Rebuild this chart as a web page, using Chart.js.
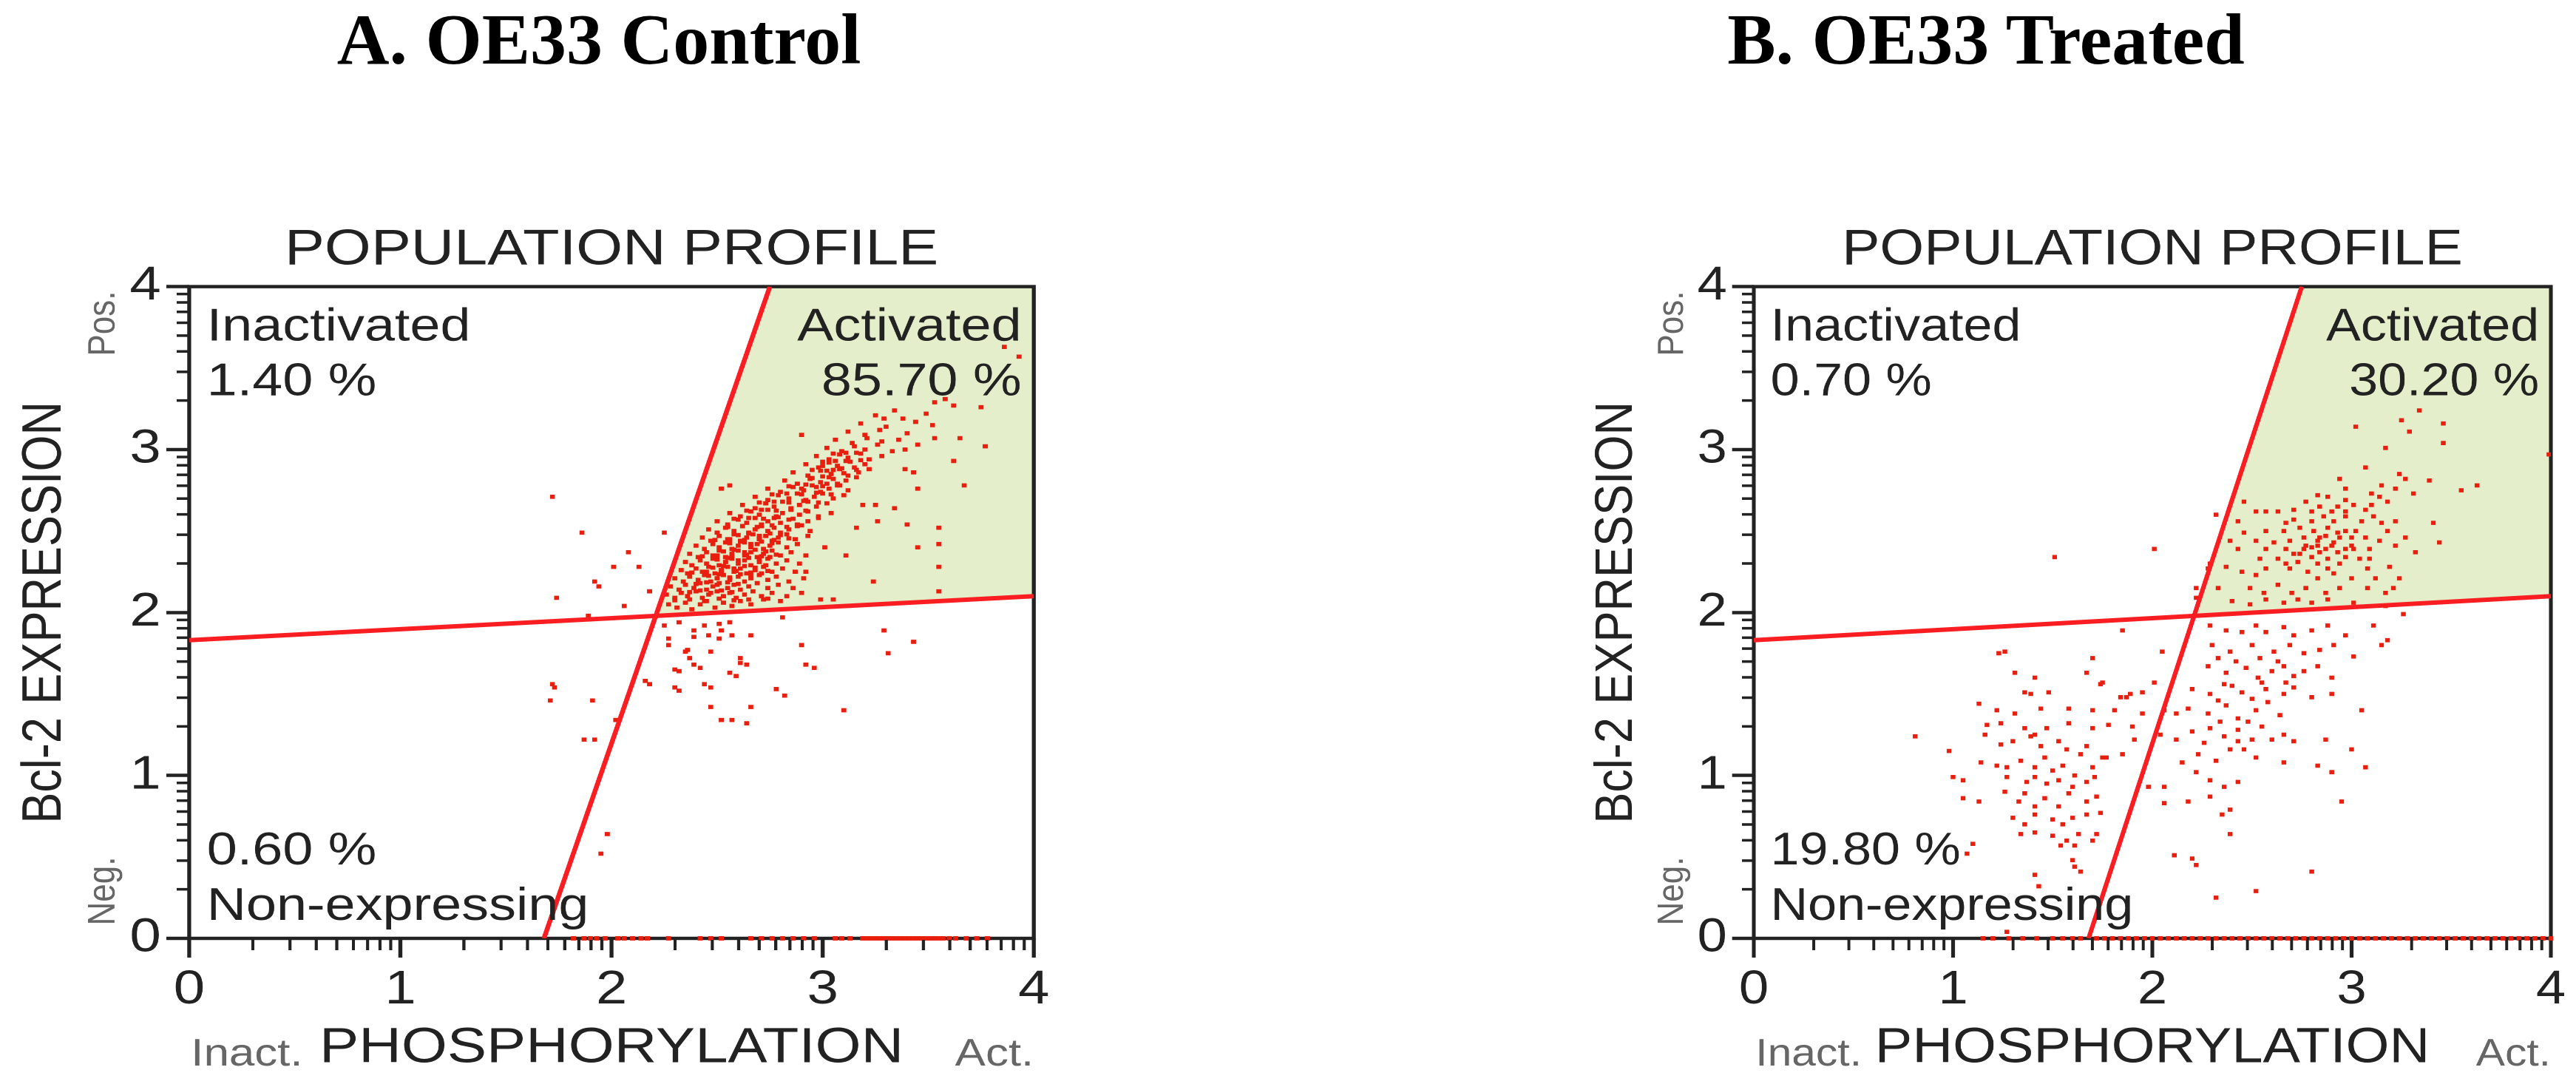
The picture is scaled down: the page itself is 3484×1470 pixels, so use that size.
<!DOCTYPE html>
<html>
<head>
<meta charset="utf-8">
<script src="https://cdn.jsdelivr.net/npm/chart.js@4.4.1/dist/chart.umd.min.js"></script>
<style>
  html, body { margin: 0; padding: 0; background: #fff; }
  body { width: 3484px; height: 1470px; position: relative; overflow: hidden; }
  .panel-title {
    position: absolute; top: 4px; width: 900px; text-align: center;
    font-family: "Liberation Serif", "Times New Roman", serif;
    font-weight: bold; font-size: 98px; line-height: 98px; color: #000;
  }
  .wrap { position: absolute; top: 0; height: 1470px; transform-origin: 0 0; }
  canvas { display: block; }
</style>
</head>
<body>
<div class="panel-title" style="left:360px">A. OE33 Control</div>
<div class="panel-title" style="left:2236px">B. OE33 Treated</div>
<div class="wrap" style="left:0; transform:scaleX(1.19)"><canvas id="chartA" width="1464" height="1470"></canvas></div>
<div class="wrap" style="left:1742px; transform:scaleX(1.13)"><canvas id="chartB" width="1542" height="1470"></canvas></div>

<script>
// axes: decades 0..4, log style minor ticks between them
const axisTicks = [0, 1, 2, 3, 4];
const minorSteps = [2, 3, 4, 5, 6, 7, 8, 9];

// quadrant gates (same for both panels)
const expressionGate = [[0, 1.83], [4, 2.10]];
const phosphoGate = [[1.68, 0], [2.75, 4]];
const activatedZone = [[2.21, 1.98], [2.75, 4], [4, 4], [4, 2.10]];

const ctrlPercents = ['1.40 %', '85.70 %', '0.60 %'];
const treatedPercents = ['0.70 %', '30.20 %', '19.80 %'];

// A. control - main diagonal population
const ctrlCore = [
  [2.27,2.05],[2.31,2.03],[2.35,2.06],[2.38,2.02],[2.42,2.05],[2.45,2.07],[2.49,2.03],[2.53,2.06],[2.57,2.04],[2.61,2.07],[2.66,2.05],[2.72,2.08],[2.80,2.07],
  [2.26,2.11],[2.30,2.09],[2.33,2.12],[2.36,2.10],[2.40,2.13],[2.43,2.09],[2.46,2.11],[2.50,2.13],[2.53,2.10],[2.56,2.12],[2.59,2.09],[2.63,2.11],[2.67,2.13],[2.71,2.10],[2.76,2.12],[2.83,2.10],[2.90,2.12],
  [2.28,2.16],[2.32,2.14],[2.35,2.17],[2.39,2.15],[2.42,2.18],[2.45,2.14],[2.48,2.16],[2.51,2.18],[2.55,2.15],[2.58,2.17],[2.61,2.14],[2.65,2.16],[2.69,2.18],[2.74,2.15],[2.79,2.17],[2.86,2.15],
  [2.30,2.21],[2.34,2.19],[2.37,2.22],[2.41,2.20],[2.44,2.23],[2.47,2.19],[2.50,2.21],[2.53,2.23],[2.56,2.20],[2.60,2.22],[2.63,2.19],[2.66,2.21],[2.70,2.23],[2.74,2.20],[2.78,2.22],[2.84,2.19],[2.91,2.21],
  [2.33,2.26],[2.36,2.24],[2.40,2.27],[2.43,2.25],[2.46,2.28],[2.49,2.24],[2.52,2.26],[2.55,2.28],[2.58,2.25],[2.61,2.27],[2.64,2.24],[2.68,2.26],[2.72,2.28],[2.76,2.25],[2.81,2.27],[2.87,2.25],
  [2.35,2.31],[2.38,2.29],[2.42,2.32],[2.45,2.30],[2.48,2.33],[2.51,2.29],[2.54,2.31],[2.57,2.33],[2.60,2.30],[2.63,2.32],[2.66,2.29],[2.70,2.31],[2.74,2.33],[2.78,2.30],[2.83,2.32],[2.89,2.30],
  [2.37,2.36],[2.41,2.34],[2.45,2.37],[2.48,2.35],[2.51,2.38],[2.54,2.34],[2.57,2.36],[2.60,2.38],[2.63,2.35],[2.66,2.37],[2.69,2.34],[2.72,2.36],[2.76,2.38],[2.80,2.35],[2.85,2.37],[2.92,2.35],
  [2.40,2.41],[2.44,2.39],[2.48,2.42],[2.51,2.40],[2.54,2.43],[2.57,2.39],[2.60,2.41],[2.63,2.43],[2.66,2.40],[2.69,2.42],[2.72,2.39],[2.75,2.41],[2.79,2.43],[2.83,2.40],[2.88,2.42],
  [2.43,2.46],[2.47,2.44],[2.51,2.47],[2.55,2.45],[2.58,2.48],[2.61,2.44],[2.64,2.46],[2.67,2.48],[2.70,2.45],[2.73,2.47],[2.76,2.44],[2.79,2.46],[2.83,2.48],[2.87,2.45],[2.93,2.47],
  [2.46,2.51],[2.50,2.49],[2.54,2.52],[2.58,2.50],[2.62,2.53],[2.65,2.49],[2.68,2.51],[2.71,2.53],[2.74,2.50],[2.77,2.52],[2.80,2.49],[2.84,2.51],[2.88,2.53],[2.94,2.50],
  [2.50,2.56],[2.55,2.54],[2.60,2.57],[2.64,2.55],[2.68,2.58],[2.71,2.54],[2.74,2.56],[2.77,2.58],[2.80,2.55],[2.84,2.57],[2.88,2.54],[2.93,2.56],[2.98,2.58],
  [2.56,2.61],[2.61,2.59],[2.66,2.62],[2.70,2.60],[2.74,2.63],[2.78,2.59],[2.81,2.61],[2.85,2.63],[2.89,2.60],[2.93,2.62],[2.98,2.59],[3.04,2.61],
  [2.62,2.66],[2.68,2.64],[2.73,2.67],[2.77,2.65],[2.81,2.68],[2.85,2.64],[2.89,2.66],[2.93,2.68],[2.97,2.65],[3.02,2.67],
  [2.68,2.71],[2.74,2.69],[2.79,2.72],[2.84,2.70],[2.88,2.73],[2.92,2.69],[2.96,2.71],[3.00,2.73],[3.05,2.70],[3.10,2.72],
  [2.74,2.76],[2.80,2.74],[2.86,2.77],[2.91,2.75],[2.95,2.78],[2.99,2.74],[3.03,2.76],[3.07,2.78],[3.12,2.75],
  [2.82,2.81],[2.88,2.79],[2.94,2.82],[2.99,2.80],[3.03,2.83],[3.07,2.79],[3.11,2.81],[3.16,2.83],
  [2.86,2.86],[2.93,2.84],[2.99,2.87],[3.04,2.85],[3.08,2.88],[3.12,2.84],[3.17,2.86],[3.22,2.88],
  [2.92,2.91],[2.98,2.89],[3.03,2.92],[3.07,2.90],[3.11,2.93],[3.15,2.89],[3.20,2.91],
  [2.97,2.96],[3.03,2.94],[3.08,2.97],[3.12,2.95],[3.16,2.98],[3.22,2.94],[3.28,2.96],
  [3.02,3.01],[3.09,2.99],[3.15,3.02],[3.20,3.00],[3.26,3.03],[3.33,2.99],
  [3.06,3.06],[3.14,3.04],[3.21,3.07],[3.28,3.05],[3.36,3.06],
  [3.12,3.11],[3.20,3.09],[3.27,3.12],[3.40,3.10],
  [3.18,3.16],[3.30,3.14],[3.44,3.17],
  [3.25,3.21],[3.38,3.19]
];
const ctrlDense = [
  [2.46,2.225],[2.51,2.235],[2.56,2.215],[2.61,2.235],[2.66,2.225],[2.71,2.24],[2.48,2.275],[2.53,2.285],[2.58,2.27],[2.63,2.285],
  [2.68,2.275],[2.73,2.29],[2.50,2.325],[2.55,2.335],[2.60,2.32],[2.65,2.335],[2.70,2.325],[2.75,2.34],[2.53,2.375],[2.58,2.385],
  [2.63,2.37],[2.68,2.385],[2.73,2.375],[2.56,2.425],[2.61,2.435],[2.66,2.42],[2.71,2.435],[2.76,2.425],[2.60,2.475],[2.65,2.485],
  [2.70,2.47],[2.75,2.485],[2.80,2.475],[2.40,2.175],[2.45,2.185],[2.50,2.17],[2.55,2.185],[2.60,2.175],[2.37,2.125],[2.42,2.135],
  [2.47,2.12],[2.52,2.135],[2.57,2.125],[2.95,2.825],[3.00,2.835],[3.05,2.82],[3.10,2.855],[3.05,2.875],[3.00,2.90],[2.90,2.76],
  [2.97,2.77],[3.02,2.79],
  [2.30,2.075],[2.37,2.08],[2.44,2.07],[2.51,2.085],[2.58,2.075],[2.65,2.08],[2.74,2.085],
  [2.38,2.245],[2.45,2.25],[2.52,2.245],[2.59,2.255],[2.66,2.245],[2.74,2.255],
  [2.43,2.345],[2.50,2.35],[2.57,2.345],[2.64,2.355],[2.71,2.345],[2.78,2.355],
  [2.49,2.445],[2.56,2.45],[2.63,2.445],[2.70,2.455],[2.77,2.445],[2.84,2.455],
  [2.55,2.525],[2.62,2.53],[2.69,2.525],[2.76,2.535],[2.83,2.525],[2.90,2.535],
  [2.58,2.575],[2.65,2.58],[2.72,2.575],[2.79,2.585],[2.86,2.575],
  [2.64,2.625],[2.71,2.63],[2.78,2.625],[2.85,2.635],[2.92,2.625],
  [2.70,2.675],[2.77,2.68],[2.84,2.675],[2.91,2.685],[2.98,2.675],
  [2.76,2.725],[2.83,2.73],[2.90,2.725],[2.97,2.735],[3.04,2.725],
  [2.84,2.775],[2.92,2.785],[3.00,2.775],[3.08,2.78],
  [2.95,2.875],[3.02,2.87],[3.09,2.885],[3.16,2.875],
  [3.00,2.925],[3.06,2.93],[3.13,2.925],[3.18,2.935],
  [3.05,2.975],[3.11,2.98],[3.18,2.975]
];
const ctrlSparse = [
  [1.72,2.71],[1.86,2.49],[2.25,2.49],[2.08,2.37],[2.01,2.28],[2.13,2.28],[1.92,2.19],[1.94,2.16],[1.74,2.09],[2.06,2.04],[2.18,2.13],[1.89,1.98],
  [3.24,2.19],[3.55,2.13],[3.55,2.28],[3.55,2.42],[3.45,2.40],[3.55,2.52],[3.40,2.54],[3.34,2.64],[3.26,2.56],[3.25,2.66],[3.19,2.66],[3.11,2.35],
  [3.16,2.52],[3.01,2.40],[2.92,2.25],[3.67,2.78],[3.62,2.93],[3.77,3.02],[3.65,3.07],[3.45,2.76],[3.43,2.86],[3.39,2.88],[3.75,3.26],[3.62,3.27],
  [3.53,3.29],[3.58,3.31],[3.86,3.63],[3.93,3.57],[2.90,3.09],[2.52,2.76],[2.56,2.78],[3.52,3.15],[3.49,3.22],[3.34,3.24],[3.29,3.19],[3.53,3.07],
  [3.45,3.03],[3.39,3.00],[2.99,2.08],[3.05,2.08],
  [2.81,1.97],[2.25,1.92],[2.32,1.94],[2.39,1.89],[2.39,1.85],[2.44,1.92],[2.46,1.86],[2.51,1.93],[2.52,1.89],[2.51,1.84],[2.56,1.94],[2.57,1.86],
  [2.66,1.86],[2.27,1.84],[2.27,1.80],[2.36,1.77],[2.35,1.76],[2.47,1.76],[2.37,1.72],[2.39,1.68],[2.61,1.72],[2.61,1.69],[2.90,1.80],[2.92,1.68],
  [2.30,1.65],[2.56,1.63],[3.29,1.89],[3.43,1.82],[3.31,1.75],[2.16,1.58],[1.72,1.56],[2.30,1.54],[2.44,1.56],[2.78,1.53],
  [1.73,1.54],[1.71,1.46],[1.91,1.46],[2.02,1.34],[1.87,1.22],[1.92,1.22],[2.18,1.56],[2.32,1.64],[2.42,1.66],[2.32,1.52],[2.47,1.54],[2.59,1.61],
  [2.64,1.68],[2.47,1.42],[2.66,1.42],[2.52,1.34],[2.57,1.34],[2.64,1.32],[2.82,1.49],[2.96,1.66],[3.10,1.40],[1.98,0.64],[1.95,0.52]
];
// events piled on the x axis (y = 0)
const ctrlOnAxis = [
  1.82,1.87,1.90,1.93,1.97,2.03,2.06,2.10,2.14,2.17,2.27,2.42,2.47,2.52,2.66,2.71,2.76,2.81,2.86,2.91,2.96,3.06,3.09,3.13,
  3.19,3.21,3.23,3.25,3.27,3.29,3.31,3.33,3.35,3.37,3.39,3.41,3.43,3.45,3.47,3.49,3.51,3.53,3.55,3.57,3.60,3.63,3.68,3.73,3.78
];

// B. treated
const treatedActive = [
  [3.34,3.24],[3.25,3.18],[3.46,3.16],[3.02,3.14],[3.29,3.11],[3.46,3.04],[3.17,3.01],[3.99,2.97],[3.07,2.89],[3.24,2.85],[3.27,2.82],[3.39,2.81],
  [3.63,2.78],[3.55,2.75],[3.31,2.73],[2.94,2.82],[2.97,2.76],[2.83,2.72],[2.88,2.71],[3.10,2.73],[3.14,2.71],[3.18,2.68],[2.77,2.68],[2.84,2.65],
  [3.01,2.66],[3.07,2.63],[2.46,2.68],[2.52,2.62],[2.57,2.62],[2.63,2.62],[2.32,2.60],[2.71,2.57],[2.80,2.56],[2.86,2.59],[2.91,2.56],[2.97,2.59],
  [3.11,2.59],[3.15,2.55],[3.22,2.56],[3.41,2.55],[3.44,2.43],[3.32,2.37],[2.46,2.49],[2.52,2.44],[2.57,2.50],[2.66,2.50],[2.69,2.44],[2.76,2.46],
  [2.81,2.50],[2.83,2.44],[2.87,2.47],[2.90,2.41],[2.94,2.46],[2.97,2.50],[3.00,2.41],[3.02,2.50],[3.07,2.46],[3.09,2.39],[3.14,2.44],[3.18,2.50],
  [3.22,2.41],[3.27,2.46],[2.67,2.39],[2.71,2.36],[2.76,2.39],[2.80,2.34],[2.84,2.37],[2.88,2.33],[2.93,2.37],[2.97,2.34],[3.01,2.39],[2.63,2.33],
  [2.67,2.30],[2.73,2.31],[2.29,2.30],[2.28,2.27],[2.37,2.28],[2.45,2.25],[2.52,2.23],[2.57,2.27],[2.78,2.25],[2.83,2.21],[2.91,2.24],[3.00,2.21],
  [3.08,2.27],[3.19,2.28],[3.24,2.21],[2.33,2.15],[2.49,2.15],[2.56,2.12],[2.63,2.17],[2.70,2.12],[2.77,2.15],[2.87,2.12],[2.94,2.15],[3.08,2.15],
  [3.17,2.12],[3.21,2.15],[2.40,2.07],[2.49,2.05],[2.57,2.08],[2.66,2.06],[2.73,2.08],[2.80,2.06],[2.88,2.08],[3.01,2.06],[3.17,2.04],[3.26,1.99],
  [2.83,2.41],[2.87,2.39],[2.91,2.43],[2.80,2.40],[2.84,2.46],[2.88,2.52],[2.93,2.49],[2.77,2.41],[2.74,2.36],[2.97,2.39],[3.00,2.46],[2.69,2.27],
  [2.83,2.30],[2.88,2.27],[2.94,2.30],[2.57,2.39],[2.61,2.43],[2.54,2.33],[2.43,2.39],[2.39,2.44],[2.43,2.56],[2.67,2.55],[2.74,2.52],[3.04,2.33],
  [3.09,2.33],[3.12,2.21],[3.05,2.56],[3.10,2.66],[2.93,2.65],[2.71,2.63],[2.80,2.62],[2.90,2.62],[2.97,2.69],[3.15,2.78],[3.22,2.76],[2.97,2.62],
  [2.22,2.15],[2.22,2.09],[2.01,2.39],[1.51,2.34]
];
const treatedLower = [
  [2.29,1.92],[2.37,1.89],[2.45,1.88],[2.52,1.92],[2.57,1.88],[2.66,1.91],[2.71,1.86],[2.80,1.89],[2.88,1.92],[2.97,1.86],[3.11,1.92],[3.18,1.83],
  [2.30,1.80],[2.39,1.76],[2.50,1.80],[2.54,1.72],[2.61,1.76],[2.69,1.80],[2.76,1.75],[2.84,1.77],[2.91,1.80],[3.01,1.73],[3.15,1.80],
  [2.28,1.67],[2.37,1.63],[2.47,1.66],[2.53,1.60],[2.60,1.64],[2.66,1.67],[2.71,1.61],[2.83,1.67],[2.90,1.60],
  [2.20,1.53],[2.29,1.50],[2.36,1.56],[2.45,1.51],[2.50,1.47],[2.57,1.53],[2.66,1.50],[2.71,1.54],[2.80,1.48],[2.90,1.50],[2.67,1.57],
  [2.18,1.41],[2.28,1.38],[2.37,1.43],[2.43,1.35],[2.52,1.40],[3.05,1.40],[2.64,1.37],
  [2.20,1.27],[2.29,1.29],[2.36,1.24],[2.43,1.28],[2.50,1.22],[2.60,1.22],[2.71,1.21],[2.12,1.22],[2.87,1.22],[2.66,1.25],
  [2.15,1.08],[2.23,1.13],[2.32,1.09],[2.39,1.16],[2.46,1.16],[2.52,1.11],[2.66,1.08],[2.83,1.06],[2.90,1.02],[3.00,1.16],[3.07,1.05],[2.43,1.21],
  [2.22,1.02],[2.29,0.97],[2.36,0.93],[2.43,0.96],[2.06,0.93],
  [2.18,0.84],[2.29,0.87],[2.35,0.76],[2.39,0.79],[2.06,0.83],[2.95,0.84],
  [2.39,0.64],[2.11,0.51],[2.20,0.49],[2.22,0.45],[2.80,0.41],[2.32,0.25],[2.52,0.29],
  [2.06,1.40],[2.12,1.38],[2.04,1.25],[2.33,1.72],[2.42,1.70],[2.63,1.70],[2.76,1.64],[2.40,1.55],[2.55,1.57],[2.33,1.46],[2.48,1.33],[2.58,1.45],
  [2.34,1.33],[2.26,1.20],[2.55,1.30]
];
const treatedLeft = [
  [1.85,1.89],[2.05,1.76],[1.70,1.72],[1.67,1.63],[1.75,1.57],[2.01,1.57],[1.95,1.51],[1.87,1.48],
  [1.23,1.75],[1.26,1.76],[1.31,1.63],[1.41,1.60],[1.36,1.51],[1.39,1.50],[1.48,1.51],[1.74,1.56],[1.13,1.44],[1.22,1.40],[1.31,1.38],[1.44,1.41],
  [1.58,1.41],[1.70,1.40],[1.81,1.40],[1.84,1.48],[1.89,1.50],
  [1.17,1.31],[1.24,1.32],[1.36,1.29],[1.41,1.25],[1.47,1.29],[1.58,1.32],[1.70,1.29],[1.78,1.31],[0.81,1.24],[1.16,1.25],[1.24,1.19],[1.30,1.21],
  [1.39,1.24],[1.44,1.18],[1.53,1.21],[1.57,1.16],[1.64,1.13],[1.67,1.18],[1.75,1.11],[1.85,1.13],[1.91,1.22],[0.98,1.15],
  [1.14,1.08],[1.22,1.06],[1.27,1.05],[1.34,1.09],[1.41,1.05],[1.46,1.11],[1.50,1.03],[1.55,1.06],[1.61,1.00],[1.70,1.05],[1.77,1.11],[1.00,0.99],[1.05,0.97],
  [1.27,0.99],[1.37,0.96],[1.41,0.99],[1.47,0.95],[1.53,0.97],[1.60,0.93],[1.67,0.96],[1.71,0.99],[1.05,0.86],[1.13,0.84],
  [1.26,0.90],[1.33,0.84],[1.36,0.89],[1.41,0.81],[1.46,0.86],[1.53,0.81],[1.58,0.89],[1.67,0.84],[1.72,0.87],
  [1.30,0.74],[1.36,0.70],[1.41,0.76],[1.50,0.73],[1.55,0.70],[1.60,0.74],[1.67,0.76],[1.74,0.77],
  [1.34,0.64],[1.41,0.65],[1.50,0.63],[1.57,0.60],[1.63,0.64],[1.72,0.64],[1.54,0.57],[1.61,0.57],[1.70,0.60],[1.10,0.58],[1.07,0.52],
  [1.60,0.48],[1.61,0.44],[1.64,0.41],[1.41,0.39],[1.43,0.32],[1.27,0.04],[1.98,0.93],[1.95,1.38],[1.90,1.30]
];
const treatedOnAxis = [
  1.15,1.20,1.28,1.35,1.42,1.50,1.55,1.60,1.64,1.72,1.76,1.80,1.84,1.88,1.92,1.96,2.00,2.04,2.08,2.12,2.16,2.20,2.24,2.28,2.32,2.36,
  2.40,2.44,2.48,2.52,2.56,2.60,2.64,2.68,2.72,2.76,2.80,2.84,2.88,2.92,2.96,3.00,3.04,3.08,3.12,3.16,3.20,3.24,3.28,3.32,3.36,3.40,
  3.44,3.48,3.52,3.56,3.60,3.64,3.68,3.72,3.76,3.80,3.84,3.88,3.92,3.96,4.00
];

const FONT = '"Liberation Sans", Arial, sans-serif';
const INK = '#222';
const DOT = 'rgb(232,30,14)';
const GATE = 'rgb(250,30,34)';
const Y_AXIS_W = 215;

Chart.defaults.font.family = FONT;
Chart.defaults.color = INK;

const toXY = arr => arr.map(p => ({ x: p[0], y: p[1] }));

const flowDecor = {
  id: 'flowDecor',
  afterDatasetDraw(chart, args) {
    if (args.index !== 4) return;
    // plot frame, over the green zone but under the events
    const { ctx, chartArea: a } = chart;
    ctx.save();
    ctx.strokeStyle = INK;
    ctx.lineWidth = 4.5;
    ctx.strokeRect(a.left, a.top, a.right - a.left, a.bottom - a.top);
    ctx.restore();
  },
  afterDraw(chart) {
    const { ctx, chartArea: a, scales } = chart;
    const pct = chart.options.plugins.flowDecor.percents;
    ctx.save();
    // minor ticks
    ctx.strokeStyle = INK;
    ctx.lineWidth = 3.5;
    ctx.beginPath();
    axisTicks.slice(0, -1).forEach(k => {
      minorSteps.forEach(m => {
        const v = k + Math.log10(m);
        const px = scales.x.getPixelForValue(v);
        ctx.moveTo(px, a.bottom + 2);
        ctx.lineTo(px, a.bottom + 16);
        const py = scales.y.getPixelForValue(v);
        ctx.moveTo(a.left, py);
        ctx.lineTo(a.left - 14, py);
      });
    });
    ctx.stroke();

    // quadrant labels
    ctx.fillStyle = INK;
    ctx.font = '62px ' + FONT;
    ctx.textBaseline = 'alphabetic';
    ctx.textAlign = 'left';
    ctx.fillText('Inactivated', a.left + 20, a.top + 73);
    ctx.fillText(pct[0], a.left + 20, a.top + 147);
    ctx.fillText(pct[2], a.left + 20, a.bottom - 100);
    ctx.fillText('Non-expressing', a.left + 20, a.bottom - 25);
    ctx.textAlign = 'right';
    ctx.fillText('Activated', a.right - 14, a.top + 73);
    ctx.fillText(pct[1], a.right - 14, a.top + 147);

    // small axis end labels
    ctx.fillStyle = '#666';
    ctx.font = '44px ' + FONT;
    ctx.textAlign = 'center';
    ctx.textBaseline = 'middle';
    [['Pos.', a.top + 50], ['Neg.', a.bottom - 64]].forEach(([t, y]) => {
      ctx.save();
      ctx.translate(a.left - 97, y);
      ctx.rotate(-Math.PI / 2);
      ctx.fillText(t, 0, 0);
      ctx.restore();
    });
    ctx.font = '52px ' + FONT;
    ctx.textBaseline = 'alphabetic';
    ctx.textAlign = 'left';
    ctx.fillText('Inact.', a.left + 2, a.bottom + 172);
    ctx.textAlign = 'right';
    ctx.fillText('Act.', a.right, a.bottom + 172);
    ctx.restore();
  }
};

function makeChart(id, cells, onAxis, percents, padL, padR) {
  const ctx = document.getElementById(id).getContext('2d');
  return new Chart(ctx, {
    type: 'scatter',
    data: {
      datasets: [
        { data: toXY(expressionGate), showLine: true, borderColor: GATE, borderWidth: 6, pointRadius: 0, order: 0 },
        { data: toXY(phosphoGate), showLine: true, borderColor: GATE, borderWidth: 5.5, pointRadius: 0, order: 0 },
        { data: toXY(cells), pointStyle: 'rect', pointRadius: 4, backgroundColor: DOT, borderWidth: 0, order: 1 },
        { data: onAxis.map(x => ({ x: x, y: 0 })), pointStyle: 'rect', pointRadius: 4.2, backgroundColor: DOT, borderWidth: 0, order: 1, clip: false },
        { data: toXY(activatedZone), showLine: true, fill: 'shape', backgroundColor: '#e5eecb', borderColor: 'rgba(0,0,0,0)', borderWidth: 0, pointRadius: 0, order: 5 }
      ]
    },
    options: {
      responsive: false,
      animation: false,
      devicePixelRatio: 2,
      events: [],
      layout: { padding: { left: padL, right: padR, top: 298, bottom: 0 } },
      plugins: {
        legend: { display: false },
        tooltip: { enabled: false },
        title: {
          display: true, fullSize: false, text: 'POPULATION PROFILE', color: INK,
          font: { size: 68, weight: 'normal' }, padding: { top: 0, bottom: 8 }
        },
        flowDecor: { percents: percents }
      },
      scales: {
        x: {
          type: 'linear', min: 0, max: 4,
          afterBuildTicks: s => { s.ticks = axisTicks.map(v => ({ value: v })); },
          afterFit: s => { s.height = 201; },
          ticks: { font: { size: 64 }, color: INK, padding: 6, maxRotation: 0, autoSkip: false },
          grid: { drawOnChartArea: false, drawTicks: true, tickLength: 26, tickWidth: 4.5, tickColor: INK },
          border: { display: false },
          title: { display: true, text: 'PHOSPHORYLATION', color: INK, font: { size: 67 }, padding: { top: 0, bottom: 12 } }
        },
        y: {
          type: 'linear', min: 0, max: 4,
          afterBuildTicks: s => { s.ticks = axisTicks.map(v => ({ value: v })); },
          afterFit: s => { s.width = Y_AXIS_W; },
          ticks: { font: { size: 64 }, color: INK, padding: 6, autoSkip: false },
          grid: { drawOnChartArea: false, drawTicks: true, tickLength: 26, tickWidth: 4.5, tickColor: INK },
          border: { display: false },
          title: { display: true, text: 'Bcl-2 EXPRESSION', color: INK, font: { size: 63 }, padding: { top: 14, bottom: 0 } }
        }
      }
    },
    plugins: [flowDecor]
  });
}

makeChart('chartA', [...ctrlCore, ...ctrlDense, ...ctrlSparse], ctrlOnAxis, ctrlPercents, 0, 289);
makeChart('chartB', [...treatedActive, ...treatedLower, ...treatedLeft], treatedOnAxis, treatedPercents, 342.5, 30.5);
</script>
</body>
</html>
